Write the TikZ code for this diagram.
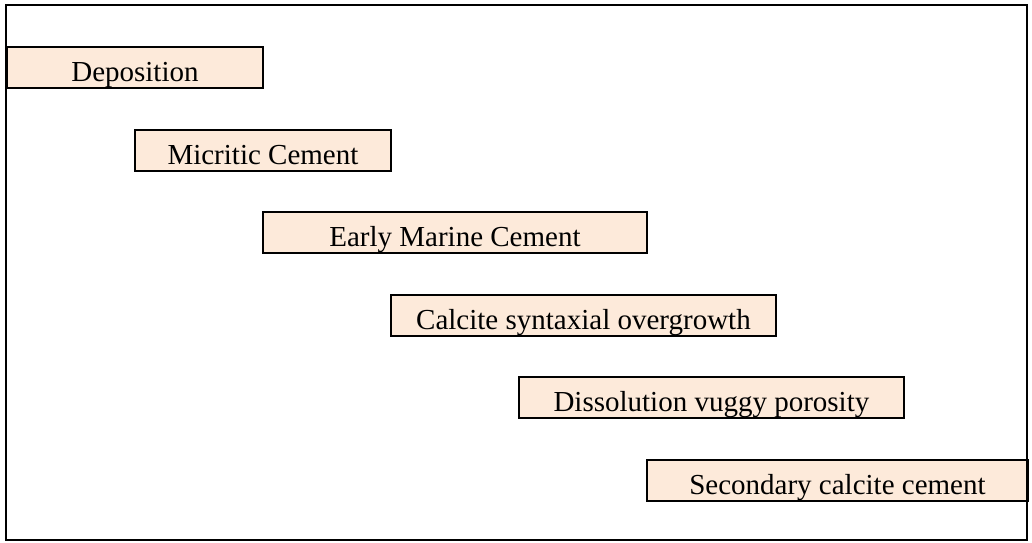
\documentclass[tikz,border=0pt]{standalone}
\usepackage{fontspec}
\setmainfont{Liberation Serif}
\definecolor{peach}{RGB}{253,234,218}
\tikzset{
  stagebox/.style={draw=black, line width=1.9pt, fill=peach, inner sep=0pt,
    text height=35pt, text depth=6pt, anchor=north west,
    font=\fontsize{29}{32}\selectfont, text=black},
  framebox/.style={draw=black, line width=1.9pt}
}
\begin{document}
\begin{tikzpicture}[x=1pt,y=-1pt]
\useasboundingbox (0,0) rectangle (1032,542);
\node[stagebox, minimum width=256pt] (dep) at (6,46) {Deposition};
\node[stagebox, minimum width=256pt] (mic) at (134,129) {Micritic Cement};
\node[stagebox, minimum width=384pt] (emc) at (262,211) {Early Marine Cement};
\node[stagebox, minimum width=385pt] (cso) at (390,294) {Calcite syntaxial overgrowth};
\node[stagebox, minimum width=385pt] (dvp) at (518,376) {Dissolution vuggy porosity};
\node[stagebox, minimum width=381pt] (scc) at (646,459) {Secondary calcite cement};
\draw[framebox] (6,5) rectangle (1027,540);
\end{tikzpicture}
\end{document}
